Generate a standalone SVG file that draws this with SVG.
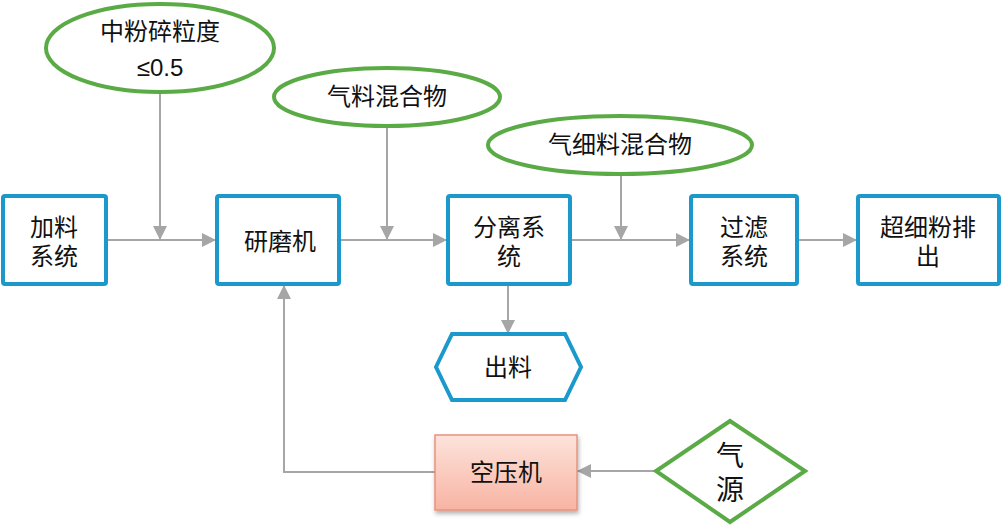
<svg xmlns="http://www.w3.org/2000/svg" width="1002" height="526" viewBox="0 0 1002 526">
<style>
.box{fill:#fff;stroke:#1b98cc;stroke-width:4}
.ell{fill:#fff;stroke:#5aab46;stroke-width:4}
.ln{fill:none;stroke:#a6a6a6;stroke-width:2}
text{font-family:"Liberation Sans","Noto Sans CJK SC",sans-serif;font-size:24px;fill:#111;text-anchor:middle}
.big{font-size:28px}
</style>
<defs>
<marker id="a" viewBox="0 0 12 12" refX="12" refY="6" markerWidth="14" markerHeight="14" orient="auto" markerUnits="userSpaceOnUse">
<path d="M0,0 L12,6 L0,12 z" fill="#a6a6a6"/>
</marker>
<linearGradient id="pg" x1="0" y1="0" x2="0" y2="1">
<stop offset="0" stop-color="#fde3db"/>
<stop offset="1" stop-color="#f8b4a3"/>
</linearGradient>
<filter id="sh" x="-10%" y="-10%" width="130%" height="140%">
<feDropShadow dx="1" dy="3" stdDeviation="2" flood-color="#000" flood-opacity="0.3"/>
</filter>
</defs>
<g id="connectors">
<line class="ln" x1="106" y1="240" x2="216" y2="240" marker-end="url(#a)"/>
<line class="ln" x1="160" y1="92" x2="160" y2="240" marker-end="url(#a)"/>
<line class="ln" x1="340" y1="240" x2="447" y2="240" marker-end="url(#a)"/>
<line class="ln" x1="387" y1="126" x2="387" y2="240" marker-end="url(#a)"/>
<line class="ln" x1="570" y1="240" x2="690" y2="240" marker-end="url(#a)"/>
<line class="ln" x1="621" y1="174" x2="621" y2="240" marker-end="url(#a)"/>
<line class="ln" x1="797" y1="240" x2="857" y2="240" marker-end="url(#a)"/>
<line class="ln" x1="508" y1="285" x2="508" y2="334" marker-end="url(#a)"/>
<line class="ln" x1="655" y1="471" x2="577" y2="471" marker-end="url(#a)"/>
<polyline class="ln" points="435,472 284,472 284,285" marker-end="url(#a)"/>
</g>
<g id="n_feed"><rect class="box" x="3" y="196" width="103" height="88" rx="2"/><text x="54" y="236">加料</text><text x="54" y="265">系统</text></g>
<g id="n_mill"><rect class="box" x="217" y="196" width="122" height="88" rx="2"/><text x="280" y="250">研磨机</text></g>
<g id="n_sep"><rect class="box" x="448" y="196" width="122" height="88" rx="2"/><text x="509" y="236">分离系</text><text x="509" y="265">统</text></g>
<g id="n_filter"><rect class="box" x="691" y="196" width="106" height="88" rx="2"/><text x="744" y="236">过滤</text><text x="744" y="265">系统</text></g>
<g id="n_out"><rect class="box" x="858" y="196" width="141" height="88" rx="2"/><text x="928" y="236">超细粉排</text><text x="928" y="265">出</text></g>
<g id="n_size"><ellipse class="ell" cx="160" cy="48" rx="114" ry="44"/><text x="160" y="40">中粉碎粒度</text><text x="160" y="76">≤0.5</text></g>
<g id="n_mix1"><ellipse class="ell" cx="387" cy="97" rx="113" ry="29"/><text x="387" y="105">气料混合物</text></g>
<g id="n_mix2"><ellipse class="ell" cx="620" cy="145" rx="132" ry="29"/><text x="620" y="153">气细料混合物</text></g>
<g id="n_discharge"><polygon class="box" points="436,367 452,334 565,334 581,367 565,400 452,400"/><text x="508" y="376">出料</text></g>
<g id="n_comp"><rect x="435" y="435" width="142" height="75" fill="url(#pg)" stroke="#e8937f" stroke-width="1.5" filter="url(#sh)"/><text x="506" y="481">空压机</text></g>
<g id="n_air"><polygon class="ell" points="730,421 805,471 730,522 656,471"/><text class="big" x="730" y="466">气</text><text class="big" x="730" y="500">源</text></g>
</svg>
